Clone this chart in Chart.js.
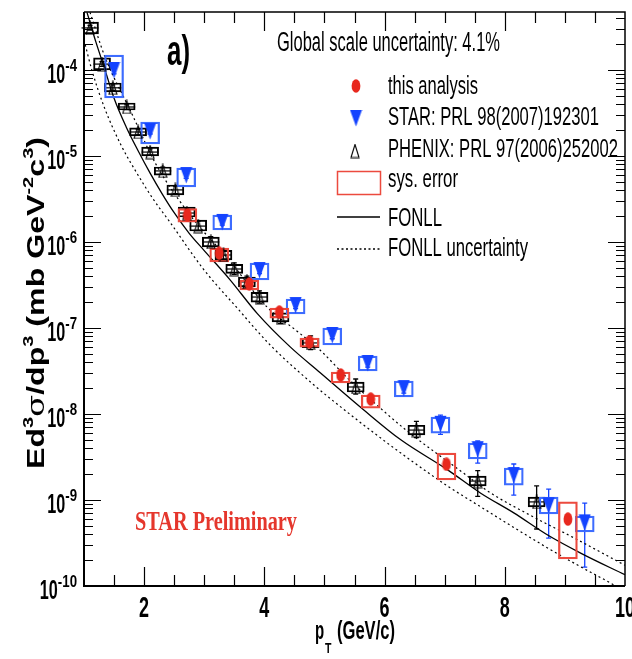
<!DOCTYPE html>
<html>
<head>
<meta charset="utf-8">
<title>Electron spectrum vs FONLL</title>
<script src="https://cdn.jsdelivr.net/npm/chart.js@4.4.1/dist/chart.umd.min.js"></script>
<style>
  html, body { margin: 0; padding: 0; background: #ffffff; }
  canvas { display: block; }
</style>
</head>
<body>
<canvas id="spectrumChart" width="632" height="659"></canvas>
<script>
// this analysis (red points + sys boxes)
var redPt = [2.72, 3.25, 3.75, 4.25, 4.75, 5.27, 5.77, 7.03, 9.05];
var redVal = [2.06e-6, 7.4e-7, 3.25e-7, 1.53e-7, 6.9e-8, 2.84e-8, 1.49e-8, 2.6e-9, 6.0e-10];
var redSysLo = [1.7e-6, 5.85e-7, 2.77e-7, 1.3e-7, 6.0e-8, 2.29e-8, 1.17e-8, 1.71e-9, 2.06e-10];
var redSysHi = [2.45e-6, 8.5e-7, 3.6e-7, 1.7e-7, 7.65e-8, 3.08e-8, 1.66e-8, 3.52e-9, 9.5e-10];

// STAR PRL 98 (blue)
var starPt = [1.5, 2.1, 2.7, 3.3, 3.92, 4.52, 5.13, 5.72, 6.32, 6.93, 7.55, 8.15, 8.73, 9.33];
var starVal = [1.0e-4, 1.95e-5, 6.0e-6, 1.71e-6, 4.72e-7, 1.85e-7, 8.3e-8, 3.92e-8, 2.0e-8, 7.7e-9, 3.9e-9, 1.95e-9, 8.7e-10, 5.5e-10];
var starSysLo = [4.72e-5, 1.38e-5, 4.36e-6, 1.38e-6, 3.61e-7, 1.46e-7, 6.34e-8, 3.16e-8, 1.58e-8, 6.0e-9, 3.0e-9, 1.49e-9, 6.9e-10, 4.25e-10];
var starSysHi = [1.49e-4, 2.48e-5, 7.24e-6, 2.06e-6, 5.7e-7, 2.17e-7, 1.0e-7, 4.72e-8, 2.42e-8, 9.2e-9, 4.6e-9, 2.35e-9, 1.08e-9, 6.5e-10];
var starErrLo = [9.0e-5, 1.8e-5, 5.5e-6, 1.57e-6, 4.3e-7, 1.68e-7, 7.5e-8, 3.5e-8, 1.75e-8, 5.8e-9, 2.69e-9, 1.14e-9, 3.6e-10, 1.66e-10];
var starErrHi = [1.1e-4, 2.1e-5, 6.5e-6, 1.85e-6, 5.1e-7, 2.0e-7, 9.1e-8, 4.3e-8, 2.25e-8, 9.7e-9, 4.85e-9, 2.62e-9, 1.34e-9, 9.2e-10];

// PHENIX PRL 97 (open triangles)
var phenixPt = [1.1, 1.3, 1.48, 1.71, 1.9, 2.1, 2.31, 2.52, 2.71, 2.9, 3.11, 3.32, 3.5, 3.71, 3.92, 4.27, 4.77, 5.52, 6.53, 7.55, 8.53];
var phenixVal = [3.08e-4, 1.17e-4, 6.2e-5, 3.71e-5, 1.9e-5, 1.11e-5, 6.7e-6, 4.03e-6, 2.17e-6, 1.53e-6, 1.0e-6, 7.06e-7, 4.85e-7, 3.43e-7, 2.29e-7, 1.34e-7, 6.7e-8, 2.06e-8, 6.5e-9, 1.66e-9, 9.5e-10];
var phenixSysLo = [2.62e-4, 1.0e-4, 5.55e-5, 3.42e-5, 1.71e-5, 1.0e-5, 6.0e-6, 3.52e-6, 1.95e-6, 1.34e-6, 8.75e-7, 6.2e-7, 4.3e-7, 3.0e-7, 2.0e-7, 1.18e-7, 5.9e-8, 1.8e-8, 5.7e-9, 1.46e-9, 8.3e-10];
var phenixSysHi = [3.6e-4, 1.38e-4, 7.06e-5, 4.13e-5, 2.12e-5, 1.27e-5, 7.45e-6, 4.6e-6, 2.55e-6, 1.8e-6, 1.14e-6, 8.0e-7, 5.5e-7, 3.9e-7, 2.6e-7, 1.5e-7, 7.6e-8, 2.35e-8, 7.4e-9, 1.9e-9, 1.08e-9];
var phenixErrLo = [2.9e-4, 1.1e-4, 5.8e-5, 3.45e-5, 1.76e-5, 1.02e-5, 6.1e-6, 3.65e-6, 1.95e-6, 1.36e-6, 8.8e-7, 6.2e-7, 4.2e-7, 2.95e-7, 1.95e-7, 1.13e-7, 5.6e-8, 1.7e-8, 5.3e-9, 1.1e-9, 4.6e-10];
var phenixErrHi = [3.3e-4, 1.25e-4, 6.7e-5, 4.0e-5, 2.05e-5, 1.21e-5, 7.4e-6, 4.45e-6, 2.45e-6, 1.75e-6, 1.15e-6, 8.2e-7, 5.7e-7, 4.0e-7, 2.7e-7, 1.6e-7, 8.1e-8, 2.55e-8, 8.2e-9, 2.2e-9, 1.46e-9];

// FONLL central + uncertainty band
var fonllPt = [1.05, 1.2, 1.35, 1.5, 1.7, 1.9, 2.1, 2.3, 2.5, 2.75, 3.0, 3.43, 3.88, 4.43, 4.93, 5.65, 6.27, 7.05, 7.6, 8.15, 8.72, 9.27, 10.0];
var fonllVal = [4.68e-4, 2.09e-4, 1.0e-4, 4.68e-5, 2.19e-5, 1.15e-5, 6.31e-6, 3.63e-6, 2.19e-6, 1.26e-6, 7.94e-7, 3.63e-7, 1.48e-7, 6.03e-8, 3.02e-8, 1.12e-8, 5.01e-9, 2.24e-9, 1.2e-9, 7.08e-10, 3.89e-10, 2.4e-10, 1.35e-10];
var fonllLowPt = [1.0, 1.13, 1.33, 1.62, 1.88, 2.15, 2.43, 2.98, 3.55, 4.1, 4.82, 5.38, 5.88, 6.48, 7.05, 7.6, 8.15, 8.72, 9.27, 9.77, 10.0];
var fonllLowVal = [2.24e-4, 1.0e-4, 3.8e-5, 1.32e-5, 6.31e-6, 3.16e-6, 1.7e-6, 4.9e-7, 1.7e-7, 6.31e-8, 2.19e-8, 1.05e-8, 5.62e-9, 2.75e-9, 1.45e-9, 8.32e-10, 4.79e-10, 2.75e-10, 1.66e-10, 1.07e-10, 8.5e-11];
var fonllHighPt = [1.1, 1.35, 1.77, 2.2, 2.8, 3.4, 4.05, 4.55, 4.93, 5.38, 5.93, 6.38, 7.32, 7.77, 8.43, 9.15, 10.0];
var fonllHighVal = [4.68e-4, 1.41e-4, 3.39e-5, 7.94e-6, 1.91e-6, 6.31e-7, 1.74e-7, 9.12e-8, 5.5e-8, 2.63e-8, 1.17e-8, 6.31e-9, 2.04e-9, 1.2e-9, 6.61e-10, 3.63e-10, 1.74e-10];

// axes
var xTickLabels = [2, 4, 6, 8, 10];
var yDecades = [-10, -9, -8, -7, -6, -5, -4];

var RED = "#e8281e";
var RED_BOX = "#ec4a3e";
var BLUE = "#1443ff";
var BLUE_BOX = "#3d6cff";
var SANS = '"Liberation Sans", Arial, sans-serif';

function pts(xs, ys) {
    return xs.map(function (x, i) { return { x: x, y: ys[i] }; });
}
function boxes(xs, lo, hi) {
    return xs.map(function (x, i) { return { x: x, y: [lo[i], hi[i]] }; });
}
function marker(w, h, paint) {
    var c = document.createElement("canvas");
    c.width = w; c.height = h;
    paint(c.getContext("2d"), w, h);
    return c;
}

var redDot = marker(10, 14, function (g, w, h) {
    g.fillStyle = RED;
    g.beginPath(); g.ellipse(w / 2, h / 2, 4.4, 6.7, 0, 0, 2 * Math.PI); g.fill();
});
var blueTri = marker(13, 18, function (g, w, h) {
    g.fillStyle = BLUE;
    g.beginPath(); g.moveTo(0.5, 1); g.lineTo(w - 0.5, 1); g.lineTo(w / 2, h - 0.5); g.closePath(); g.fill();
});
var openTri = marker(10, 15, function (g, w, h) {
    g.strokeStyle = "#000"; g.lineWidth = 1.1;
    g.beginPath(); g.moveTo(w / 2, 1); g.lineTo(w - 1, h - 1); g.lineTo(1, h - 1); g.closePath(); g.stroke();
});

// text drawn squeezed horizontally like the original
function txt(ctx, s, x, y, font, sx, align, color) {
    ctx.save();
    ctx.font = font;
    ctx.fillStyle = color || "#000";
    ctx.textBaseline = "alphabetic";
    ctx.textAlign = "left";
    var w = ctx.measureText(s).width * sx;
    var left = align === "right" ? x - w : (align === "center" ? x - w / 2 : x);
    ctx.translate(left, y);
    ctx.scale(sx, 1);
    ctx.fillText(s, 0, 0);
    ctx.restore();
    return w;
}
function txtFit(ctx, s, x, y, font, width, align, color) {
    ctx.save(); ctx.font = font;
    var sx = width / ctx.measureText(s).width;
    ctx.restore();
    return txt(ctx, s, x, y, font, sx, align, color);
}

function errorBars(ctx, xs, lo, hi, color, xS, yS) {
    ctx.save();
    ctx.strokeStyle = color; ctx.lineWidth = 1.3;
    xs.forEach(function (x, i) {
        var px = xS.getPixelForValue(x);
        var y1 = yS.getPixelForValue(lo[i]), y2 = yS.getPixelForValue(hi[i]);
        ctx.beginPath();
        ctx.moveTo(px, y1); ctx.lineTo(px, y2);
        ctx.moveTo(px - 2.5, y1); ctx.lineTo(px + 2.5, y1);
        ctx.moveTo(px - 2.5, y2); ctx.lineTo(px + 2.5, y2);
        ctx.stroke();
    });
    ctx.restore();
}

var rootFrame = {
    id: "rootFrame",
    beforeDatasetsDraw: function (chart) {
        var ctx = chart.ctx, xS = chart.scales.x, yS = chart.scales.y;
        errorBars(ctx, starPt, starErrLo, starErrHi, BLUE, xS, yS);
        errorBars(ctx, phenixPt, phenixErrLo, phenixErrHi, "#000", xS, yS);
        // horizontal bar through PHENIX boxes
        ctx.save();
        ctx.strokeStyle = "#000"; ctx.lineWidth = 1.2;
        phenixPt.forEach(function (x, i) {
            var px = xS.getPixelForValue(x), py = yS.getPixelForValue(phenixVal[i]);
            ctx.beginPath(); ctx.moveTo(px - 8.5, py); ctx.lineTo(px + 8.5, py); ctx.stroke();
        });
        ctx.restore();
    },
    afterDraw: function (chart) {
        var ctx = chart.ctx, a = chart.chartArea, xS = chart.scales.x, yS = chart.scales.y;
        ctx.save();
        ctx.strokeStyle = "#000";
        // frame
        ctx.lineWidth = 2;
        ctx.beginPath();
        ctx.moveTo(a.left, a.top); ctx.lineTo(a.left, a.bottom); ctx.lineTo(a.right, a.bottom);
        ctx.stroke();
        ctx.lineWidth = 1.5;
        ctx.beginPath();
        ctx.moveTo(a.left, a.top); ctx.lineTo(a.right, a.top); ctx.lineTo(a.right, a.bottom);
        ctx.stroke();
        // x ticks (bottom and top, inside)
        ctx.lineWidth = 1.2;
        for (var i = 3; i <= 19; i++) {
            var v = i / 2;
            var px = Math.round(xS.getPixelForValue(v)) + 0.5;
            var len = (v % 2 === 0) ? 19 : 11;
            ctx.beginPath();
            ctx.moveTo(px, a.bottom); ctx.lineTo(px, a.bottom - len);
            ctx.moveTo(px, a.top); ctx.lineTo(px, a.top + len);
            ctx.stroke();
        }
        // y ticks (left and right, inside)
        for (var k = -10; k <= -4; k++) {
            for (var m = 1; m <= 9; m++) {
                var val = m * Math.pow(10, k);
                if (val > yS.max) break;
                var py = Math.round(yS.getPixelForValue(val)) + 0.5;
                var l = m === 1 ? 17 : 9;
                ctx.beginPath();
                ctx.moveTo(a.left, py); ctx.lineTo(a.left + l, py);
                ctx.moveTo(a.right, py); ctx.lineTo(a.right - l, py);
                ctx.stroke();
            }
        }
        ctx.restore();

        // x tick labels
        xTickLabels.forEach(function (t) {
            txt(ctx, String(t), xS.getPixelForValue(t), 617, "bold 29px " + SANS, 0.62, "center");
        });
        // y tick labels 10^k
        yDecades.forEach(function (k) {
            var py = yS.getPixelForValue(Math.pow(10, k));
            var w = txt(ctx, String(k), 77, py + 1, "bold 17px " + SANS, 0.78, "right");
            txt(ctx, "10", 77 - w, py + 13, "bold 27px " + SANS, 0.6, "right");
        });

        // x title
        txt(ctx, "p", 315, 639, "bold 25px " + SANS, 0.6, "left");
        txt(ctx, "T", 325, 653, "bold 15px " + SANS, 0.7, "left");
        txtFit(ctx, "(GeV/c)", 337, 639, "bold 25px " + SANS, 58, "left");

        // y title
        var segs = [["Ed", 0], ["3", 1], ["\u03c3", 2], ["/dp", 0], ["3", 1], [" (mb GeV", 0], ["-2", 1], ["c", 0], ["3", 1], [")", 0]];
        var fonts = ["bold 24px " + SANS, "bold 15px " + SANS, "24px \"DejaVu Serif\", serif"];
        ctx.save();
        var total = 0;
        segs.forEach(function (s) { ctx.font = fonts[s[1]]; total += ctx.measureText(s[0]).width; });
        var sx = 332 / total;
        ctx.translate(44, 303 + 166);
        ctx.rotate(-Math.PI / 2);
        ctx.scale(sx, 1);
        ctx.fillStyle = "#000";
        var pos = 0;
        segs.forEach(function (s) {
            ctx.font = fonts[s[1]];
            ctx.fillText(s[0], pos, s[1] === 1 ? -11 : 0);
            pos += ctx.measureText(s[0]).width;
        });
        ctx.restore();

        // annotations
        txtFit(ctx, "a)", 167, 65, "bold 42px " + SANS, 23, "left");
        txtFit(ctx, "Global scale uncertainty: 4.1%", 277, 51, "27px " + SANS, 223, "left");
        txtFit(ctx, "STAR Preliminary", 135, 530, "bold 27px \"Liberation Serif\", \"Times New Roman\", serif", 162, "left", "#e5362c");

        // legend
        ctx.drawImage(redDot, 356 - 5, 86 - 7);
        ctx.drawImage(blueTri, 356 - 6.5, 118 - 9);
        ctx.drawImage(openTri, 355 - 5, 151 - 7.5);
        ctx.save();
        ctx.strokeStyle = RED_BOX; ctx.lineWidth = 1.5;
        ctx.strokeRect(337.5, 171.5, 43, 23);
        ctx.strokeStyle = "#000"; ctx.lineWidth = 1.3;
        ctx.beginPath(); ctx.moveTo(337, 217); ctx.lineTo(380, 217); ctx.stroke();
        ctx.setLineDash([2, 2.5]);
        ctx.beginPath(); ctx.moveTo(337, 249); ctx.lineTo(380, 249); ctx.stroke();
        ctx.restore();
        var lf = "26px " + SANS;
        txtFit(ctx, "this analysis", 388, 94, lf, 90, "left");
        txtFit(ctx, "STAR: PRL 98(2007)192301", 388, 125, lf, 211, "left");
        txtFit(ctx, "PHENIX: PRL 97(2006)252002", 388, 157, lf, 230, "left");
        txtFit(ctx, "sys. error", 388, 187, lf, 70, "left");
        txtFit(ctx, "FONLL", 388, 226, lf, 54, "left");
        txtFit(ctx, "FONLL uncertainty", 388, 256, lf, 140, "left");
    }
};

new Chart("spectrumChart", {
    type: "scatter",
    data: {
        datasets: [
            { label: "this analysis", data: pts(redPt, redVal), pointStyle: redDot, pointRadius: 5, order: 0 },
            { label: "STAR: PRL 98(2007)192301", data: pts(starPt, starVal), pointStyle: blueTri, pointRadius: 5, order: 1 },
            { label: "PHENIX: PRL 97(2006)252002", data: pts(phenixPt, phenixVal), pointStyle: openTri, pointRadius: 5, order: 2 },
            {
                type: "bar", label: "sys. error", data: boxes(redPt, redSysLo, redSysHi),
                barThickness: 19, grouped: false, borderSkipped: false,
                backgroundColor: "rgba(0,0,0,0)", borderColor: RED_BOX, borderWidth: 1.6, order: 3
            },
            {
                type: "bar", label: "STAR sys", data: boxes(starPt, starSysLo, starSysHi),
                barThickness: 19, grouped: false, borderSkipped: false,
                backgroundColor: "rgba(0,0,0,0)", borderColor: BLUE_BOX, borderWidth: 1.6, order: 4
            },
            {
                type: "bar", label: "PHENIX sys", data: boxes(phenixPt, phenixSysLo, phenixSysHi),
                barThickness: 17, grouped: false, borderSkipped: false,
                backgroundColor: "rgba(0,0,0,0)", borderColor: "#000", borderWidth: 1.3, order: 5
            },
            {
                type: "line", label: "FONLL", data: pts(fonllPt, fonllVal),
                borderColor: "#000", borderWidth: 1.3, pointRadius: 0, fill: false,
                cubicInterpolationMode: "monotone", order: 6
            },
            {
                type: "line", label: "FONLL uncertainty", data: pts(fonllHighPt, fonllHighVal),
                borderColor: "#000", borderWidth: 1.2, borderDash: [2, 3], pointRadius: 0, fill: false,
                cubicInterpolationMode: "monotone", order: 7
            },
            {
                type: "line", label: "FONLL uncertainty low", data: pts(fonllLowPt, fonllLowVal),
                borderColor: "#000", borderWidth: 1.2, borderDash: [2, 3], pointRadius: 0, fill: false,
                cubicInterpolationMode: "monotone", order: 8
            }
        ]
    },
    options: {
        responsive: false,
        animation: false,
        devicePixelRatio: 1,
        events: [],
        layout: { padding: { left: 84, right: 7, top: 12, bottom: 73 } },
        plugins: {
            legend: { display: false },
            tooltip: { enabled: false }
        },
        scales: {
            x: { type: "linear", min: 1, max: 10, offset: false, display: false },
            y: { type: "logarithmic", min: 1e-10, max: 4.72e-4, display: false }
        }
    },
    plugins: [rootFrame]
});
</script>
</body>
</html>
